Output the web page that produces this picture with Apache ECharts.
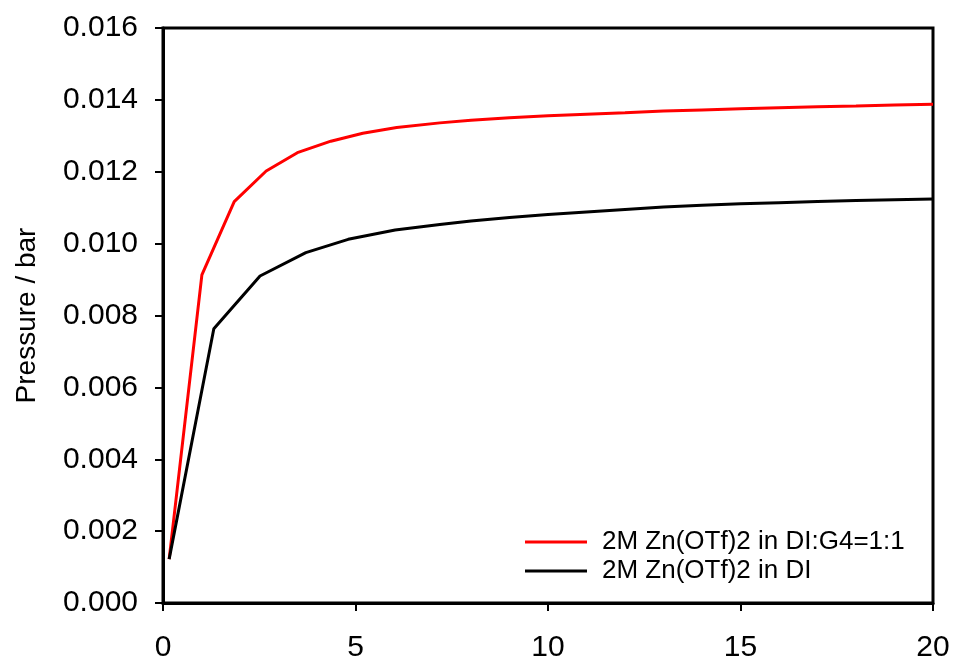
<!DOCTYPE html>
<html>
<head>
<meta charset="utf-8">
<script src="https://cdn.jsdelivr.net/npm/echarts@6/dist/echarts.min.js"></script>
<style>
  html, body { margin: 0; padding: 0; background: #fff; }
  #chart { width: 957px; height: 663px; }
</style>
</head>
<body>
<div id="chart"></div>
<script>
// Vapour pressure over time for two electrolytes
const seriesNames = ['2M Zn(OTf)2 in DI:G4=1:1', '2M Zn(OTf)2 in DI'];

const timeMixed = [0.16, 1.01, 1.85, 2.68, 3.49, 4.36, 5.19, 6.07, 7.19, 8, 9, 10, 11, 12, 13, 14, 15, 16, 17, 18, 19, 20];
const pressureMixed = [0.00122, 0.00913, 0.01117, 0.01202, 0.01253, 0.01285, 0.01307, 0.01323, 0.01336, 0.01343, 0.01350, 0.01356, 0.01360, 0.01364, 0.01369, 0.01372, 0.01375, 0.01378, 0.01381, 0.01383, 0.01386, 0.01388];

const timeDI = [0.16, 1.32, 2.52, 3.71, 4.81, 6.03, 7.19, 8, 9, 10, 11, 12, 13, 14, 15, 16, 17, 18, 19, 20];
const pressureDI = [0.00122, 0.00763, 0.00910, 0.00975, 0.01012, 0.01038, 0.01053, 0.01063, 0.01073, 0.01081, 0.01088, 0.01095, 0.01102, 0.01107, 0.01111, 0.01114, 0.01117, 0.01120, 0.01122, 0.01124];

const xTicks = [0, 5, 10, 15, 20];
const yTicks = [0, 0.002, 0.004, 0.006, 0.008, 0.010, 0.012, 0.014, 0.016];

const pairs = (xs, ys) => xs.map((x, i) => [x, ys[i]]);
const FONT = '"Liberation Sans", Arial, sans-serif';
const TEXT = '#000';

const chart = echarts.init(document.getElementById('chart'), null, { renderer: 'canvas' });
chart.setOption({
  animation: false,
  backgroundColor: '#fff',
  grid: {
    left: 163, right: 24, top: 28, bottom: 60,
    show: true, borderColor: '#000', borderWidth: 3, backgroundColor: 'transparent'
  },
  xAxis: {
    type: 'value',
    min: xTicks[0], max: xTicks[xTicks.length - 1], interval: 5,
    axisLine: { show: true, onZero: false, lineStyle: { color: '#000', width: 3 } },
    axisTick: { show: true, inside: false, length: 8, lineStyle: { color: '#000', width: 2 } },
    axisLabel: { color: TEXT, fontFamily: FONT, fontSize: 30, margin: 30 },
    splitLine: { show: false }
  },
  yAxis: {
    type: 'value',
    min: yTicks[0], max: yTicks[yTicks.length - 1], interval: 0.002,
    name: 'Pressure / bar',
    nameLocation: 'middle',
    nameGap: 122,
    nameTextStyle: { color: TEXT, fontFamily: FONT, fontSize: 28 },
    axisLine: { show: true, onZero: false, lineStyle: { color: '#000', width: 3 } },
    axisTick: { show: true, inside: false, length: 8, lineStyle: { color: '#000', width: 2 } },
    axisLabel: {
      color: TEXT, fontFamily: FONT, fontSize: 30, margin: 25,
      formatter: v => v.toFixed(3)
    },
    splitLine: { show: false }
  },
  legend: {
    orient: 'vertical',
    left: 520, top: 524,
    icon: 'rect',
    itemWidth: 62, itemHeight: 3,
    itemGap: 3,
    textStyle: { color: TEXT, fontFamily: FONT, fontSize: 26, padding: [0, 0, 0, 10] },
    data: seriesNames
  },
  series: [
    {
      name: seriesNames[0], type: 'line',
      data: pairs(timeMixed, pressureMixed),
      showSymbol: false, symbol: 'none',
      lineStyle: { color: '#ff0000', width: 3 },
      itemStyle: { color: '#ff0000' }
    },
    {
      name: seriesNames[1], type: 'line',
      data: pairs(timeDI, pressureDI),
      showSymbol: false, symbol: 'none',
      lineStyle: { color: '#000', width: 3 },
      itemStyle: { color: '#000' }
    }
  ]
});
</script>
</body>
</html>
